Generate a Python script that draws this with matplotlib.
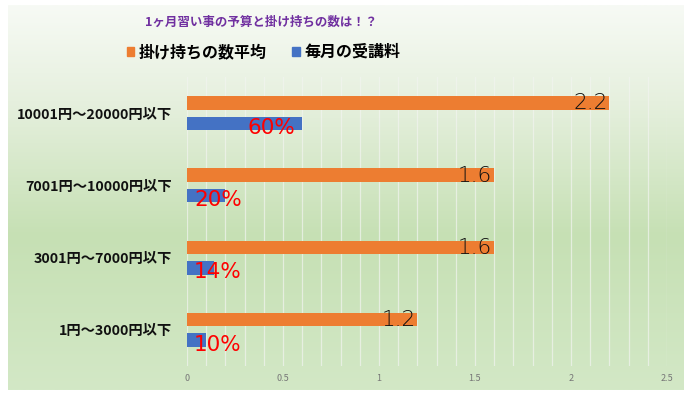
import numpy as np
import matplotlib
matplotlib.use("Agg")
import matplotlib.pyplot as plt
from matplotlib.colors import LinearSegmentedColormap
from matplotlib.patches import Patch

plt.rcParams['font.family'] = ['Noto Sans CJK JP', 'DejaVu Sans']

title = "1ヶ月習い事の予算と掛け持ちの数は！？"
categories = ["10001円～20000円以下", "7001円～10000円以下", "3001円～7000円以下", "1円～3000円以下"]
series_names = ["掛け持ちの数平均", "毎月の受講料"]
avg_count = [2.2, 1.6, 1.6, 1.2]
fee_share = [0.60, 0.20, 0.14, 0.10]
fee_labels = ["60%", "20%", "14%", "10%"]
count_labels = ["2.2", "1.6", "1.6", "1.2"]
xticks = [0, 0.5, 1, 1.5, 2, 2.5]

orange = "#ED7D31"
blue = "#4472C4"

fig = plt.figure(figsize=(6.9, 3.95), dpi=100)
fig.patch.set_facecolor("white")

# gradient background panel
bg = fig.add_axes([8/690, 5/395, 676/690, 385/395])
cmap = LinearSegmentedColormap.from_list("g", [
    (0.0, "#f7faf5"), (0.25, "#e6f0de"), (0.6, "#c6e0b4"), (1.0, "#d3e8c6")])
grad = np.linspace(0, 1, 256).reshape(-1, 1)
bg.imshow(grad, aspect="auto", cmap=cmap, extent=[0, 1, 0, 1], origin="upper")
bg.set_axis_off()

ax = fig.add_axes([187/690, (395-366)/395, 480/690, 289/395])
ax.patch.set_alpha(0)
n = len(categories)
y = np.arange(n)
off = 0.1435
h = 0.187
ax.barh(y - off, avg_count, height=h, color=orange, zorder=3)
ax.barh(y + off, fee_share, height=h, color=blue, zorder=3)

for yi, v, lab in zip(y, avg_count, count_labels):
    ax.text(v - 0.01, yi - off + 0.01, lab, ha="right", va="center",
            fontsize=15.5, color="#111111", family=["DejaVu Sans"],
            fontweight="light", zorder=4)
for yi, v, lab in zip(y, fee_share, fee_labels):
    xpos = max(v - 0.035, 0.285)
    ax.text(xpos, yi + off + 0.06, lab, ha="right", va="center",
            fontsize=15.5, color="#FF0000", family=["DejaVu Sans"], zorder=4)

ax.set_xlim(0, 2.5)
ax.set_ylim(n - 0.5, -0.5)
ax.set_yticks(y)
ax.set_yticklabels(categories, fontsize=10.3, fontweight="bold", color="#111111")
ax.set_xticks(xticks)
ax.set_xticklabels([f"{t:g}" for t in xticks], fontsize=6.5, color="#777777")
ax.set_xticks(np.arange(0, 2.51, 0.1), minor=True)
ax.tick_params(axis="both", length=0, which="both")
ax.tick_params(axis="y", pad=11)
ax.tick_params(axis="x", pad=6)
ax.grid(axis="x", which="both", color="#f2f4f0", alpha=0.7, linewidth=0.9, zorder=0)
for s in ax.spines.values():
    s.set_visible(False)

fig.text(0.378, 373/395, title, ha="center", va="center", fontsize=9,
         fontweight="bold", color="#7030A0")

# legend
handles = [Patch(color=orange), Patch(color=blue)]
fig.legend(handles, series_names, loc="center", bbox_to_anchor=(0.382, 343/395),
           ncol=2, frameon=False, prop={"size": 11.5, "weight": "bold"},
           handlelength=0.45, handleheight=0.45, handletextpad=0.3,
           columnspacing=1.6)

fig.savefig("out.png", dpi=100)
